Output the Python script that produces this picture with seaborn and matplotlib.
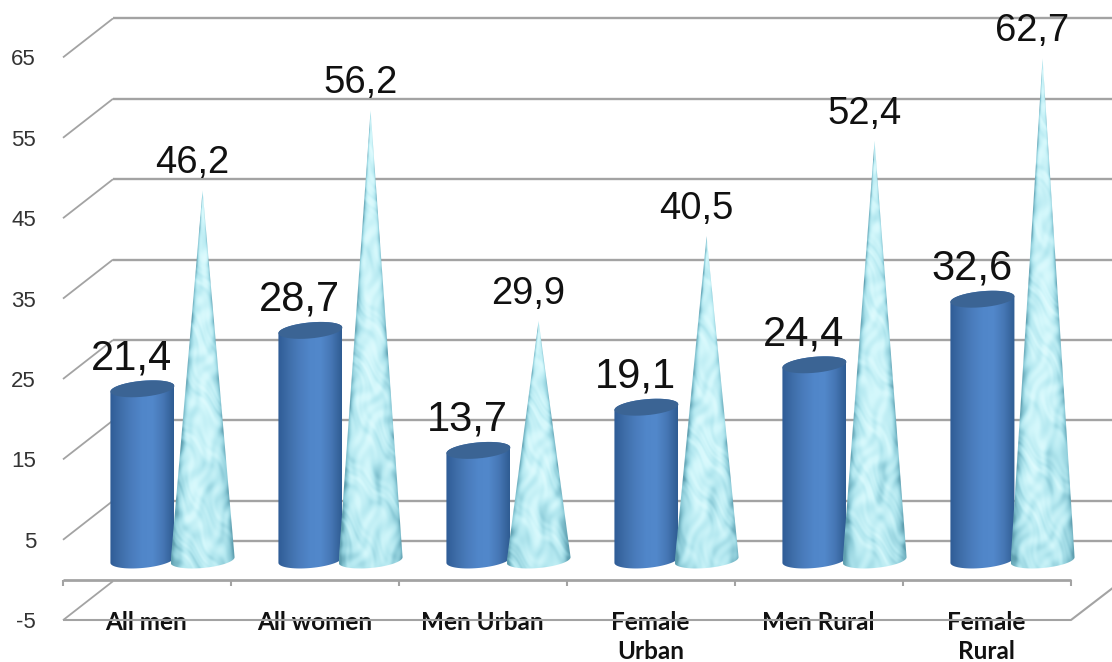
import numpy as np
import pandas as pd
import matplotlib
matplotlib.use("Agg")
import matplotlib.pyplot as plt
from matplotlib.colors import LinearSegmentedColormap
from matplotlib.patches import PathPatch, Polygon
from matplotlib.path import Path
import seaborn as sns

categories = ["All men", "All women", "Men Urban", "Female\nUrban", "Men Rural", "Female\nRural"]
series_a = [21.4, 28.7, 13.7, 19.1, 24.4, 32.6]
series_b = [46.2, 56.2, 29.9, 40.5, 52.4, 62.7]
labels_a = ["21,4", "28,7", "13,7", "19,1", "24,4", "32,6"]
labels_b = ["46,2", "56,2", "29,9", "40,5", "52,4", "62,7"]
y_ticks = [-5, 5, 15, 25, 35, 45, 55, 65]

sns.set_style("white")
plt.rcParams["font.family"] = ["Liberation Sans", "DejaVu Sans"]
plt.rcParams["axes.unicode_minus"] = False

W, H = 1112, 662
PX_X = 168.0          # pixels per category
X0 = 172.5            # pixel of first category centre
PX_Y = 8.0            # pixels per value unit (bars)
Y0 = 560.0            # pixel of value 0 (bars)
def xd(px): return (px - X0) / PX_X
def yd(px): return (Y0 - px) / PX_Y

fig = plt.figure(figsize=(W / 100, H / 100), dpi=100, facecolor="white")
ax = fig.add_axes([0, 0, 1, 1], facecolor="none")

df = pd.DataFrame({
    "cat": categories * 2,
    "val": series_a + series_b,
    "ser": ["a"] * 6 + ["b"] * 6,
})
sns.barplot(data=df, x="cat", y="val", hue="ser", order=categories, hue_order=["a", "b"],
            palette=["#4f81c4", "#bdeef5"], width=0.74, gap=0, legend=False, ax=ax,
            errorbar=None, zorder=3)

# ---- walls and floor ----
GRID = "#a3a3a3"
def front_px(v): return 580 - 8.04 * v
kw = dict(color=GRID, solid_capstyle="butt", zorder=1, clip_on=True)
for v in y_ticks:
    fy = front_px(v)
    ax.plot([xd(63), xd(113)], [yd(fy), yd(fy - 39)], lw=1.3, **kw)
    if v > -5:
        ax.plot([xd(113), xd(W + 2)], [yd(fy - 39), yd(fy - 39)], lw=1.7, **kw)
# floor
ax.plot([xd(113), xd(W + 2)], [yd(540.5), yd(540.5)], lw=1.7, **kw)
ax.plot([xd(63), xd(1071)], [yd(580)] * 2, lw=2.0, **kw)
ax.plot([xd(63), xd(1071), xd(W + 2)], [yd(620), yd(620), yd(587)], lw=1.5, **kw)
for k in range(7):
    x = xd(63 + k * 168)
    ax.plot([x, x], [yd(580), yd(586)], lw=1.5, **kw)

# ---- cylinders and cones, built on the seaborn bar geometry ----
cyl_cmap = LinearSegmentedColormap.from_list(
    "cyl", ["#2f5c96", "#3f6ea9", "#4a7cbc", "#5086c9", "#5288cb", "#4677b5", "#2f5c92"])
cone_cmap = LinearSegmentedColormap.from_list(
    "cone", ["#5f9fb0", "#8ccbd8", "#b4e8f0", "#d2f7fb", "#e6fdff"])

def arc(cx, cy, a, b, t0, t1, n=40, tilt=0.35):
    t = np.linspace(t0, t1, n)
    return np.c_[cx + a * np.cos(t), cy + b * np.sin(t) + tilt * np.cos(t)]

patches = list(ax.patches)
bars_a, bars_b = patches[:6], patches[6:12]
HALF = 32 / PX_X

for p in bars_a:
    x0, w, h = p.get_x(), p.get_width(), p.get_height()
    p.set_facecolor("none"); p.set_edgecolor("none")
    cx, a, b = x0 + w / 2 + 1 / PX_X, HALF, 1.0
    verts = np.r_[arc(cx, 0, a, b, np.pi, 2 * np.pi), arc(cx, h, a, b, 0, np.pi)]
    clip = PathPatch(Path(np.r_[verts, verts[:1]]), transform=ax.transData)
    grad = np.linspace(0, 1, 128)[None, :]
    im = ax.imshow(grad, extent=(cx - a, cx + a, -1.5, h + 1.5), aspect="auto",
                   cmap=cyl_cmap, zorder=3, interpolation="bilinear")
    im.set_clip_path(clip)
    ax.add_patch(Polygon(arc(cx, h, a, b, 0, 2 * np.pi), closed=True,
                         facecolor="#3b6494", edgecolor="none", zorder=3.2))

for idx, p in enumerate(bars_b):
    x0, w, h = p.get_x(), p.get_width(), p.get_height()
    p.set_facecolor("none"); p.set_edgecolor("none")
    cx, a, b = x0 + w / 2 - 1 / PX_X, HALF, 1.0
    verts = np.r_[arc(cx, 0, a, b, np.pi, 2 * np.pi), [[cx, h]]]
    clip = PathPatch(Path(np.r_[verts, verts[:1]]), transform=ax.transData)
    ny, nx = int(h * PX_Y) + 16, 70
    u = np.linspace(-1, 1, nx)[None, :]
    v = np.linspace(1.03, -0.03, ny)[:, None]           # v=0 base, v=1 apex
    half = np.clip(1 - v, 0.02, None)
    rel = np.clip(u / half, -1, 1)
    # texture follows the cone surface, so it narrows to the apex
    s = rel * half * 32
    py = v * h * PX_Y + 37 * idx
    wx = s + 7 * np.sin(py * 0.043 + 1.3 * idx) + 4 * np.sin(py * 0.111 + s * 0.09)
    wy = py + 9 * np.sin(s * 0.07 + py * 0.029) + 5 * np.cos(s * 0.19 - py * 0.061)
    tex = (0.55 * np.sin(wx * 0.23 + wy * 0.071) * np.cos(wy * 0.113 - wx * 0.047)
           + 0.35 * np.sin(wx * 0.41 - wy * 0.173 + 1.7)
           + 0.30 * np.cos(wy * 0.29 + wx * 0.31 + 0.9)
           + 0.15 * np.sin(wx * 0.83 + wy * 0.47))
    val = 0.70 + 0.17 * tex
    val = val - 0.55 * np.abs(rel) ** 4
    val = val - 0.16 * (v < 0.16) * (1 - v / 0.16)
    blob = np.exp(-(((u - 0.22) / 0.20) ** 2 + ((v - 0.19) / 0.075) ** 2))
    val = val - 0.32 * blob
    im = ax.imshow(np.clip(val, 0, 1), extent=(cx - a, cx + a, -0.03 * h - 0.5, 1.03 * h),
                   aspect="auto", cmap=cone_cmap, vmin=0, vmax=1, zorder=4,
                   interpolation="bilinear")
    im.set_clip_path(clip)

# ---- value labels ----
for p, t in zip(bars_a, labels_a):
    ax.annotate(t, (p.get_x() + p.get_width() / 2, p.get_height()),
                xytext=(-7, 22), textcoords="offset points", ha="center", va="center",
                fontsize=30, color="#111111", zorder=6)
for p, t in zip(bars_b, labels_b):
    ax.annotate(t, (p.get_x() + p.get_width() / 2, p.get_height()),
                xytext=(-8, 19.5), textcoords="offset points", ha="center", va="center",
                fontsize=27.5, color="#111111", zorder=6)

ax.set_xlim(xd(0), xd(W))
ax.set_ylim(yd(H), yd(0))
ax.set_xlabel(""); ax.set_ylabel("")
ax.set_xticks([i - 0.155 for i in range(6)], categories)
ax.tick_params(axis="x", length=0, pad=-37, labelsize=17.5, colors="#111111")
for lab in ax.get_xticklabels():
    lab.set_fontfamily(["Lato", "DejaVu Sans"])
    lab.set_fontweight("bold")
    lab.set_linespacing(1.35)
    lab.set_zorder(7)
ax.set_yticks([])
sns.despine(ax=ax, left=True, bottom=True)

# value axis along the front plane
ax2 = ax.twinx()
ax2.set_position([0, 0, 1, 1])
ax2.patch.set_visible(False)
ax2.set_ylim((580 - H) / 8.04, 580 / 8.04)
ax2.set_yticks(y_ticks)
ax2.yaxis.tick_left()
ax2.tick_params(axis="y", length=0, pad=-26, labelsize=16, colors="#333333")
for s_ in ax2.spines.values():
    s_.set_visible(False)

fig.savefig("out.png", dpi=100, facecolor="white")
